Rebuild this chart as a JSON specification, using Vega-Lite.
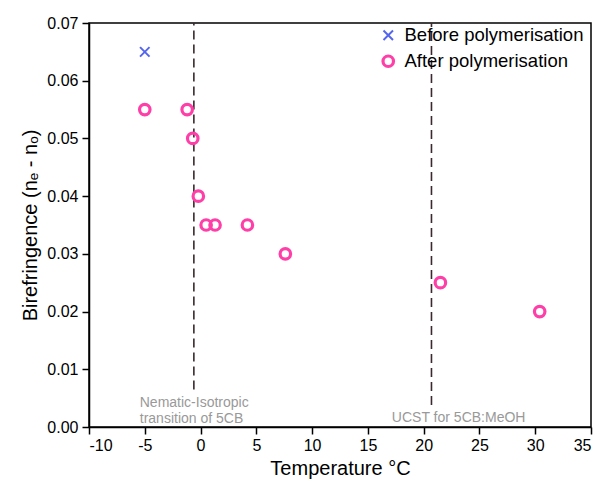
{
  "$schema": "https://vega.github.io/schema/vega-lite/v6.json",
  "width": 502,
  "height": 404,
  "autosize": "none",
  "padding": {"left": 89, "top": 23, "right": 10, "bottom": 54},
  "config": {
    "font": "Arial, Liberation Sans, sans-serif",
    "text": {"font": "Arial, Liberation Sans, sans-serif"},
    "legend": {"labelFont": "Arial, Liberation Sans, sans-serif"},
    "view": {"stroke": "black", "strokeWidth": 1.5},
    "axis": {
      "grid": false,
      "labelFont": "Arial, Liberation Sans, sans-serif",
      "titleFont": "Arial, Liberation Sans, sans-serif",
      "domainColor": "black",
      "domainWidth": 1.5,
      "tickColor": "black",
      "tickWidth": 1.5,
      "labelColor": "black",
      "labelFontSize": 16,
      "titleColor": "black",
      "titleFontSize": 20,
      "titleFontWeight": "normal"
    }
  },
  "datasets": {
    "pts": [
      {"T": -5, "B": 0.065, "series": "Before polymerisation"},
      {"T": -5, "B": 0.055, "series": "After polymerisation"},
      {"T": -1.2, "B": 0.055, "series": "After polymerisation"},
      {"T": -0.7, "B": 0.05, "series": "After polymerisation"},
      {"T": -0.2, "B": 0.04, "series": "After polymerisation"},
      {"T": 0.5, "B": 0.035, "series": "After polymerisation"},
      {"T": 1.3, "B": 0.035, "series": "After polymerisation"},
      {"T": 4.2, "B": 0.035, "series": "After polymerisation"},
      {"T": 7.6, "B": 0.03, "series": "After polymerisation"},
      {"T": 21.5, "B": 0.025, "series": "After polymerisation"},
      {"T": 30.4, "B": 0.02, "series": "After polymerisation"}
    ],
    "rules": [
      {"T": -0.6, "y1": 0.0065, "y2": 0.07},
      {"T": 20.7, "y1": 0.0038, "y2": 0.07}
    ],
    "notes": [
      {"T": -5.45, "B": 0.0042, "label": "Nematic-Isotropic"},
      {"T": -5.45, "B": 0.0014, "label": "transition of 5CB"},
      {"T": 17.15, "B": 0.0015, "label": "UCST for 5CB:MeOH"}
    ]
  },
  "layer": [
    {
      "data": {"name": "rules"},
      "mark": {"type": "rule", "color": "#3a2a2e", "strokeWidth": 1.6, "strokeDash": [9, 5]},
      "encoding": {
        "x": {"field": "T", "type": "quantitative"},
        "y": {"field": "y1", "type": "quantitative"},
        "y2": {"field": "y2"}
      }
    },
    {
      "data": {"name": "notes"},
      "mark": {"type": "text", "align": "left", "baseline": "middle", "fontSize": 14, "color": "#999999"},
      "encoding": {
        "x": {"field": "T", "type": "quantitative"},
        "y": {"field": "B", "type": "quantitative"},
        "text": {"field": "label"}
      }
    },
    {
      "data": {"name": "pts"},
      "mark": {"type": "point", "filled": false, "opacity": 1},
      "encoding": {
        "x": {
          "field": "T", "type": "quantitative",
          "scale": {"domain": [-10, 35], "nice": false, "zero": false},
          "axis": {
            "title": "Temperature °C",
            "values": [-10, -7.5, -5, -2.5, 0, 2.5, 5, 7.5, 10, 12.5, 15, 17.5, 20, 22.5, 25, 27.5, 30, 32.5, 35],
            "labelExpr": "datum.value % 5 === 0 ? toString(datum.value) : ''",
            "tickSize": {"condition": {"test": "datum.value % 5 !== 0", "value": 3.5}, "value": 7},
            "labelPadding": 3,
            "titlePadding": 5
          }
        },
        "y": {
          "field": "B", "type": "quantitative",
          "scale": {"domain": [0, 0.07], "nice": false},
          "axis": {
            "title": "Birefringence (nₑ - nₒ)",
            "values": [0, 0.005, 0.01, 0.015, 0.02, 0.025, 0.03, 0.035, 0.04, 0.045, 0.05, 0.055, 0.06, 0.065, 0.07],
            "format": ".2f",
            "labelExpr": "abs(datum.value*100 - round(datum.value*100)) > 0.01 ? '' : datum.label",
            "tickSize": {"condition": {"test": "abs(datum.value*100 - round(datum.value*100)) > 0.01", "value": 3.5}, "value": 7},
            "labelPadding": 4,
            "titlePadding": 6
          }
        },
        "color": {
          "field": "series", "type": "nominal",
          "scale": {"domain": ["Before polymerisation", "After polymerisation"], "range": ["#5566ee", "#ff3fa8"]},
          "legend": {
            "title": null,
            "orient": "none",
            "legendX": 290,
            "legendY": 3,
            "labelFontSize": 18.5,
            "labelColor": "black",
            "labelLimit": 400,
            "symbolSize": 70,
            "symbolStrokeWidth": 2.5,
            "rowPadding": 4,
            "labelOffset": 7
          }
        },
        "shape": {
          "field": "series", "type": "nominal",
          "scale": {"domain": ["Before polymerisation", "After polymerisation"], "range": ["M-1,-1L1,1M-1,1L1,-1", "circle"]}
        },
        "size": {
          "field": "series", "type": "nominal",
          "scale": {"domain": ["Before polymerisation", "After polymerisation"], "range": [90, 110]},
          "legend": null
        },
        "strokeWidth": {
          "field": "series", "type": "nominal",
          "scale": {"domain": ["Before polymerisation", "After polymerisation"], "range": [2, 3.2]},
          "legend": null
        }
      }
    }
  ]
}
